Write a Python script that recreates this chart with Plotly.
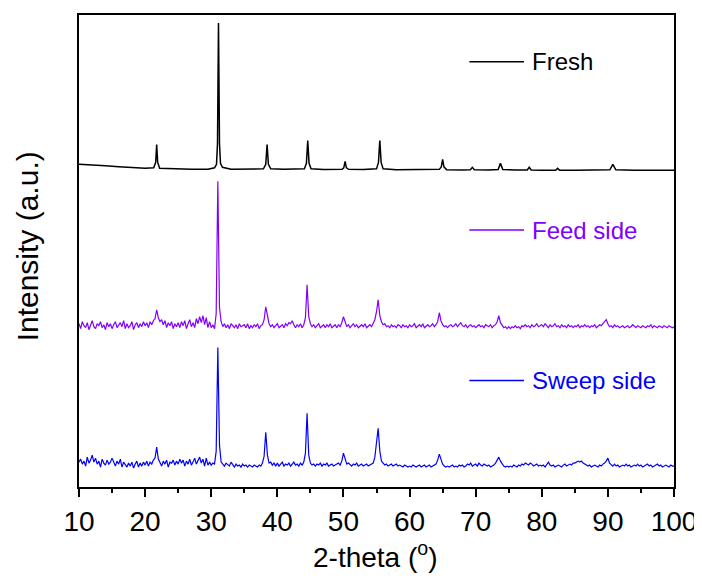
import numpy as np
import plotly.graph_objects as go

# ---------------- data ----------------
# Fresh sample (smooth pattern): 2-theta and stacked intensity (a.u.)
fresh_x = [10, 12, 14, 16, 18, 20, 21.3, 21.6, 21.75, 21.9, 22.2, 24, 27, 29.5, 30.5, 30.8, 30.95, 31.1,
           31.25, 31.4, 31.7, 33, 36, 37.9, 38.25, 38.45, 38.65, 39, 41, 43, 44.1, 44.4, 44.6, 44.8, 45.1,
           47, 49.8, 50.05, 50.25, 50.45, 50.8, 53, 55.0, 55.3, 55.5, 55.7, 56.0, 58, 61, 64.5, 64.8, 65.0,
           65.2, 65.6, 68, 69.2, 69.5, 69.8, 72, 73.4, 73.75, 74.1, 76, 77.8, 78.1, 78.4, 80, 82.1, 82.4,
           82.7, 85, 88, 90.3, 90.75, 91.2, 94, 97, 100]
fresh_y = [324, 323.5, 322.5, 321.5, 320.5, 320, 320.5, 326, 344, 326, 320, 319.5, 319.2, 319, 320.5, 324, 345, 466,
           345, 325, 321, 319, 319, 319.5, 324, 344, 324, 319.5, 319, 319, 319.5, 325, 348, 325, 319.5,
           318.8, 319, 320.5, 327, 320.5, 319, 318.8, 319.5, 326, 348, 326, 319.5, 318.6, 318.5, 319, 321.5, 329,
           321.5, 318.7, 318.4, 318.5, 321, 318.5, 318.4, 318.8, 325, 318.8, 318.3, 318.3, 321, 318.3, 318.2, 318.1,
           320, 318.1, 318, 318, 318.5, 324, 318.5, 318, 318, 318]

# Feed side & Sweep side: measured on a 0.25 deg grid from 10 to 100 deg
theta_start, theta_stop, theta_step = 10.0, 100.0, 0.25
feed_base = 162
feed_dev = [
    2, -3, 4, 0, -2, 3, -4, 1, 5, -1, -3, 2, 0, 4, -2, 1, -4, 3, -1, 2,
    -3, 1, 4, -2, 0, 3, -1, 5, -3, 2, -2, 0, 4, -4, 1, 3, -2, 2, -1, 4,
    0, 3, -2, 4, 1, 5, 7, 16, 8, 4, 6, 1, 5, -2, 3, 0, 4, -3, 2, -1,
    3, -2, 4, 0, 5, -3, 2, 6, -1, 3, -2, 7, 2, 9, 3, 10, 1, 8, -2, 4,
    -2, 1, -3, 12, 145, 18, 4, -1, 2, -2, 1, -3, 2, 0, -2, 1, -3, 2, -1, 0,
    1, -2, 2, -3, 0, -2, 1, -1, 2, -3, 0, 1, 6, 19, 8, 2, -1, 1, -2, 0,
    2, -2, 0, 1, -2, 2, 0, 3, 2, 5, 1, -2, 1, -1, 2, -2, 1, 8, 41, 9,
    2, -1, 1, -2, 0, 2, -2, 0, 1, -2, 1, -1, 2, -2, 0, 1, -2, 1, -1, 3,
    9, 3, -1, 1, -2, 0, 2, -1, 1, -2, 0, 1, -1, 2, -2, 0, 1, -1, 2, 6,
    14, 26, 10, 4, 1, 2, -1, 0, -2, 1, -1, 0, -2, 1, 0, -2, 1, -1, 0, -2,
    1, -1, 0, 2, -2, 0, 1, -1, 2, -2, 0, 1, -1, 0, 2, -1, 1, 4, 13, 5,
    1, -1, 0, -2, 0, 1, -1, 0, 2, -1, 1, 3, 0, -1, 1, -2, 0, 1, -1, 0,
    -2, 0, 1, -1, 0, -2, 1, 0, -1, 1, -2, 0, 1, 4, 10, 3, 0, -2, -1, -3,
    -1, -3, -1, -2, 0, -2, -1, -3, 0, -1, 1, -1, 0, -2, 1, -1, 0, 2, -1, 0,
    1, -1, 2, 0, -2, 1, -1, 0, 2, -1, 0, -2, 1, -1, 0, -2, 1, -1, 0, -2,
    0, -1, 1, -2, 0, -1, 1, -1, 0, -2, 0, -1, 1, -2, 0, 1, 0, 2, 3, 6,
    2, -1, 0, -2, 1, -1, 0, -2, -1, 0, -2, -1, 0, -2, -1, 1, -1, -2, 0, -1,
    -2, 0, -1, -2, 0, -1, 1, -2, 0, -1, -2, 0, -1, -2, 0, -1, -2, 0, -1, -2, -1,
]
sweep_base = 22
sweep_dev = [
    3, 6, 1, 4, -1, 8, 2, 5, 10, 3, 7, 1, 4, -2, 6, 2, 0, 5, 1, 3,
    7, 2, -1, 4, 1, 6, -2, 3, 0, -2, 2, -1, 3, -3, 1, 4, -2, 2, -1, 3,
    0, 4, -1, 3, 1, 5, 7, 18, 6, 3, -1, 4, 1, 5, -2, 3, 2, 5, 0, 4,
    1, 6, 2, 5, -1, 4, 1, 6, 0, 3, 7, 1, 5, 8, 2, 6, -1, 7, 0, 3,
    0, 2, 1, 14, 118, 20, 3, 1, -1, 2, 0, -1, 3, 0, -2, 1, -1, 0, -2, 1,
    -1, 0, -2, 0, -1, -2, 0, -1, -2, 0, -1, 2, 9, 33, 10, 2, 3, 0, 2, -1,
    2, -1, 1, 3, -1, 1, 0, 2, -1, 1, 3, 0, 1, -1, 2, 0, 3, 12, 52, 10,
    2, 0, 1, -1, 1, 0, 2, -1, 1, 0, 2, -1, 0, 1, -1, 0, 1, 2, 0, 4,
    12, 5, 1, 2, 0, -1, 1, 0, 2, -1, 0, 1, -1, 0, 1, -1, 0, 1, 2, 8,
    20, 37, 14, 4, 2, 0, 1, -1, 0, 1, -1, 0, 1, -1, 0, -1, -2, 0, -1, -2,
    -1, -2, 0, -1, -2, -1, 0, -2, -1, 0, -2, -1, 0, -2, -1, 0, 1, 5, 11, 6,
    1, -1, -2, -1, -2, -1, 0, -2, -1, -2, 0, -1, 0, -2, -1, 1, 0, 2, -1, 0,
    1, -1, 2, 0, -1, 1, 0, -1, 0, -2, -1, 0, 2, 5, 8, 4, 1, -1, -2, -1,
    -2, -1, -2, 0, -1, -2, 0, -1, 1, 0, 2, 1, 0, 2, 1, -1, 0, 1, -1, 0,
    -1, 0, -2, 1, 3, 0, -1, 0, -2, -1, 0, -1, -2, 0, 1, -1, 0, 1, 0, 2,
    2, 3, 4, 3, 4, 2, 1, 0, -1, 0, -2, -1, 0, -1, -2, 0, -1, 1, 2, 4,
    7, 2, 0, -1, 1, -1, 0, -2, -1, 0, -1, 1, -1, 0, -2, -1, 0, -1, 1, -1,
    0, -2, -1, 0, 1, -1, 0, -2, -1, 0, 1, -1, 0, -2, -1, 0, -1, -2, 0, -1, -1,
]

series_names = ["Fresh", "Feed side", "Sweep side"]
series_colors = ["#000000", "#8000FF", "#0000FF"]
x_ticks = [10, 20, 30, 40, 50, 60, 70, 80, 90, 100]

# ---------------- figure ----------------
grid = np.arange(len(feed_dev)) * theta_step + theta_start
feed_y = [feed_base + d for d in feed_dev]
sweep_y = [sweep_base + d for d in sweep_dev]

FONT = "Liberation Sans, Arial, sans-serif"
fig = go.Figure()
fig.add_trace(go.Scatter(x=fresh_x, y=fresh_y, mode="lines", name=series_names[0],
                         line=dict(color=series_colors[0], width=1.5), showlegend=False))
fig.add_trace(go.Scatter(x=grid, y=feed_y, mode="lines", name=series_names[1],
                         line=dict(color=series_colors[1], width=1.2), showlegend=False))
fig.add_trace(go.Scatter(x=grid, y=sweep_y, mode="lines", name=series_names[2],
                         line=dict(color=series_colors[2], width=1.2), showlegend=False))

# page body has an 8px default margin: size the figure so that it fills the window
OFF = 8
W, H = 702 - OFF, 578 - OFF
PL, PR, PT, PB = 79, 678, 13, 487          # plot box in window pixels
pw, ph = PR - PL, PB - PT

def px_x(px):
    return (px - PL) / pw

def px_y(py):
    return (PB - py) / ph

legend_rows = [60, 229, 380]
for name, col, py in zip(series_names, series_colors, legend_rows):
    fig.add_shape(type="line", xref="paper", yref="paper",
                  x0=px_x(472), x1=px_x(527), y0=px_y(py), y1=px_y(py),
                  line=dict(color=col, width=1.5))
    fig.add_annotation(text=name, xref="paper", yref="paper", x=px_x(533), y=px_y(py),
                       xanchor="left", yanchor="middle", showarrow=False,
                       font=dict(family=FONT, size=24, color=col))

fig.add_annotation(text="Intensity (a.u.)", xref="paper", yref="paper",
                   x=px_x(27), y=px_y(245), xanchor="center", yanchor="middle",
                   textangle=-90, showarrow=False, font=dict(family=FONT, size=30, color="black"))
fig.add_annotation(text="2-theta (<sup>o</sup>)", xref="paper", yref="paper",
                   x=px_x(377), y=px_y(575), xanchor="center", yanchor="bottom",
                   showarrow=False, font=dict(family=FONT, size=28, color="black"))

fig.update_layout(
    width=W, height=H,
    margin=dict(l=PL - OFF, r=702 - PR, t=PT - OFF, b=578 - PB),
    paper_bgcolor="white", plot_bgcolor="white",
    font=dict(family=FONT, color="black"),
)
fig.update_xaxes(range=[10, 100], tickvals=x_ticks, ticks="outside", ticklen=8, tickwidth=1.5,
                 tickcolor="black", showline=True, linecolor="black", linewidth=2, mirror=True,
                 showgrid=False, zeroline=False, ticklabeloverflow="allow",
                 tickfont=dict(family=FONT, size=28, color="black"),
                 minor=dict(dtick=5, tick0=10, ticks="outside", ticklen=4, tickwidth=1.5, tickcolor="black"))
fig.update_yaxes(range=[0, 474], showticklabels=False, ticks="", showline=True, linecolor="black",
                 linewidth=2, mirror=True, showgrid=False, zeroline=False)

fig.write_html("out.html")
